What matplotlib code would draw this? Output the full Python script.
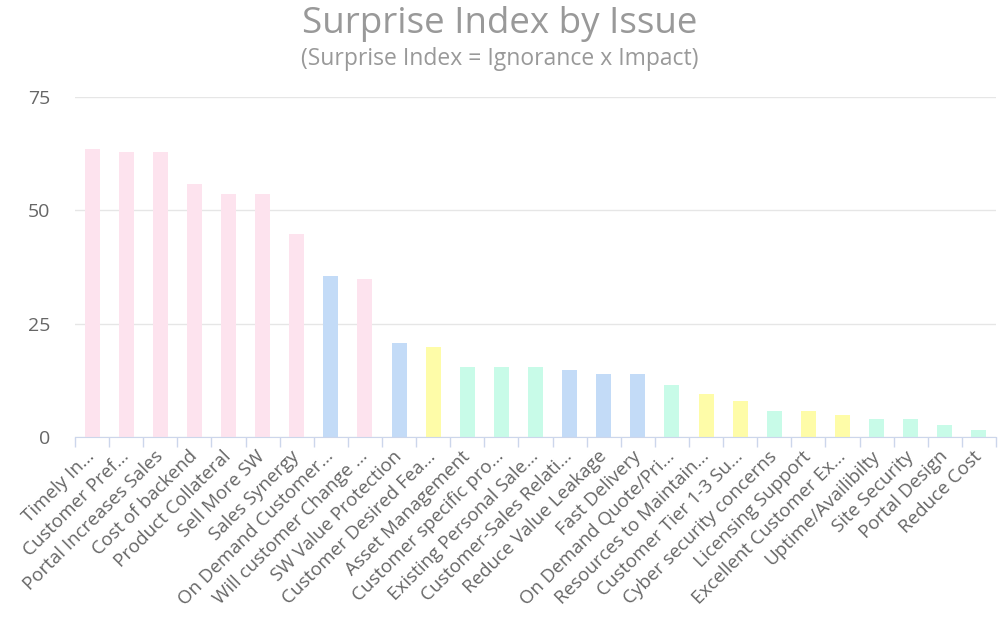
import numpy as np
from matplotlib import pyplot as plt

# issues, sorted by surprise index
issues = ['Timely In...', 'Customer Pref...', 'Portal Increases Sales', 'Cost of backend',
          'Product Collateral', 'Sell More SW', 'Sales Synergy', 'On Demand Customer...',
          'Will customer Change ...', 'SW Value Protection', 'Customer Desired Fea...',
          'Asset Management', 'Customer specific pro...', 'Existing Personal Sale...',
          'Customer-Sales Relati...', 'Reduce Value Leakage', 'Fast Delivery',
          'On Demand Quote/Pri...', 'Resources to Maintain...', 'Customer Tier 1-3 Su...',
          'Cyber security concerns', 'Licensing Support', 'Excellent Customer Ex...',
          'Uptime/Availibilty', 'Site Security', 'Portal Design', 'Reduce Cost']
surprise = [63.5, 62.9, 62.9, 55.8, 53.6, 53.6, 44.7, 35.5, 34.8, 20.8, 19.9,
            15.5, 15.5, 15.5, 14.9, 13.8, 13.8, 11.5, 9.6, 8.0, 5.7, 5.7, 4.9,
            3.9, 3.9, 2.6, 1.5]
groups = ['p', 'p', 'p', 'p', 'p', 'p', 'p', 'b', 'p', 'b', 'y',
          'g', 'g', 'g', 'b', 'b', 'b', 'g', 'y', 'y', 'g', 'y', 'y',
          'g', 'g', 'g', 'g']
yticks = [0, 25, 50, 75]

colors = {'p': '#fde3ee', 'b': '#c3dbf7', 'y': '#fefca8', 'g': '#c8fbe8'}

plt.rcParams['font.family'] = ['Open Sans', 'DejaVu Sans']

fig = plt.figure(figsize=(10, 6.19), dpi=100)
ax = fig.add_axes([0.075, 0.294, 0.921, 0.549])

x = np.arange(len(issues))
ax.bar(x, surprise, width=0.44, color=[colors[g] for g in groups], zorder=2)

ax.set_xlim(-0.5, len(issues) - 0.5)
ax.set_ylim(0, 75)
ax.set_yticks(yticks)
ax.yaxis.grid(True, color='#e6e6e6', linewidth=1, zorder=0)
ax.tick_params(axis='y', length=0, labelsize=14, labelcolor='#666666', pad=18)

# category ticks between bars
ax.set_xticks(x)
ax.set_xticklabels(issues, rotation=45, ha='right', va='center', rotation_mode='anchor',
                   fontsize=13.5, color='#666666')
ax.tick_params(axis='x', length=0, pad=12)
ax.set_xticks(np.arange(len(issues) + 1) - 0.5, minor=True)
ax.tick_params(axis='x', which='minor', length=7, color='#ccd6eb', width=1)

for s in ['top', 'right', 'left']:
    ax.spines[s].set_visible(False)
ax.spines['bottom'].set_color('#ccd6eb')

fig.text(0.5, 0.962, 'Surprise Index by Issue', ha='center', va='center',
         fontsize=26.5, color='#999999')
fig.text(0.5, 0.905, '(Surprise Index = Ignorance x Impact)', ha='center', va='center',
         fontsize=16.5, color='#999999')

fig.savefig('out.png', dpi=100)
